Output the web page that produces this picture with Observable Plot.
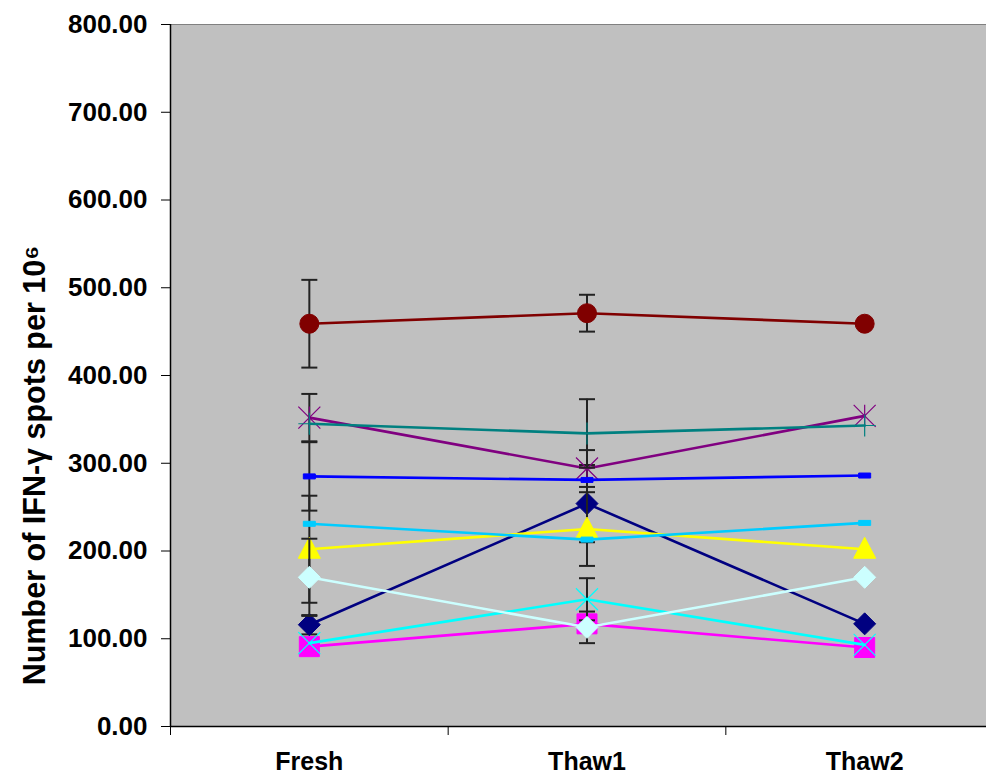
<!DOCTYPE html>
<html>
<head>
<meta charset="utf-8">
<script src="https://cdn.jsdelivr.net/npm/d3@7"></script>
<script src="https://cdn.jsdelivr.net/npm/@observablehq/plot@0.6"></script>
<style>
  html, body { margin: 0; padding: 0; background: #fff; overflow: hidden; }
  #chart svg text { font-weight: bold; }
</style>
</head>
<body>
<div id="chart"></div>
<script>
const categories = ["Fresh", "Thaw1", "Thaw2"];
const yTicks = [0, 100, 200, 300, 400, 500, 600, 700, 800];
const yLabel = "Number of IFN-\u03B3 spots per 10\u2076";

const seriesNames = ["S1", "S2", "S3", "S4", "S5", "S6", "S7", "S8", "S9", "S10"];
const seriesColors = ["#000080", "#FF00FF", "#FFFF00", "#00FFFF", "#800080", "#800000", "#008080", "#0000FF", "#00CCFF", "#CCFFFF"];
const seriesMarkers = ["diamond", "square", "triangle", "times", "star", "circle", "plus", "dash", "dash", "diamond"];

const values1  = [116, 254, 117];
const values2  = [91, 117, 90];
const values3  = [202, 225, 202];
const values4  = [95, 145, 93];
const values5  = [352, 294, 354];
const values6  = [459, 471, 459];
const values7  = [345, 334, 343];
const values8  = [285, 281, 286];
const values9  = [231, 213, 232];
const values10 = [170, 113, 170];

const errors1  = [11, 44, null];
const errors2  = [null, null, null];
const errors3  = [61, 42, null];
const errors4  = [null, 24, null];
const errors5  = [27, 21, null];
const errors6  = [50, 21, null];
const errors7  = [null, 39, null];
const errors8  = [39, null, null];
const errors9  = [null, null, null];
const errors10 = [44, 18, null];

const allValues = [values1, values2, values3, values4, values5, values6, values7, values8, values9, values10];
const allErrors = [errors1, errors2, errors3, errors4, errors5, errors6, errors7, errors8, errors9, errors10];

// custom marker shapes (pixel sizes), ignoring Plot's size argument
const shapes = {
  diamond: {draw(c) { const r = 11; c.moveTo(0, -r); c.lineTo(r, 0); c.lineTo(0, r); c.lineTo(-r, 0); c.closePath(); }},
  square: {draw(c) { const r = 10; c.rect(-r, -r, 2 * r, 2 * r); }},
  triangle: {draw(c) { c.moveTo(0, -12); c.lineTo(11, 9); c.lineTo(-11, 9); c.closePath(); }},
  times: {draw(c) { const r = 11; c.moveTo(-r, -r); c.lineTo(r, r); c.moveTo(-r, r); c.lineTo(r, -r); }},
  star: {draw(c) { const r = 11; c.moveTo(-r, -r); c.lineTo(r, r); c.moveTo(-r, r); c.lineTo(r, -r); c.moveTo(0, -r); c.lineTo(0, r); }},
  circle: {draw(c) { const r = 9.5; c.moveTo(r, 0); c.arc(0, 0, r, 0, 2 * Math.PI); }},
  plus: {draw(c) { const r = 11; c.moveTo(-r, 0); c.lineTo(r, 0); c.moveTo(0, -r); c.lineTo(0, r); }},
  dash: {draw(c) { c.rect(-6, -2.5, 12, 5); }},
  cap: {draw(c) { c.moveTo(-8, 0); c.lineTo(8, 0); }}
};
const strokeOnly = new Set(["times", "star", "plus"]);

const seriesMarks = [];
seriesNames.forEach((name, s) => {
  const rows = categories.map((cat, i) => ({series: name, xi: i, cat, value: allValues[s][i], err: allErrors[s][i]}));
  const errRows = rows.filter(d => d.err != null);
  const color = seriesColors[s];
  const m = seriesMarkers[s];
  seriesMarks.push(Plot.line(rows, {x: "xi", y: "value", stroke: color, strokeWidth: 2.6}));
  seriesMarks.push(Plot.ruleX(errRows, {x: "xi", y1: d => d.value - d.err, y2: d => d.value + d.err, stroke: "#222", strokeWidth: 2}));
  seriesMarks.push(Plot.dot(errRows, {x: "xi", y: d => d.value - d.err, r: 5, symbol: shapes.cap, stroke: "#222", strokeWidth: 2}));
  seriesMarks.push(Plot.dot(errRows, {x: "xi", y: d => d.value + d.err, r: 5, symbol: shapes.cap, stroke: "#222", strokeWidth: 2}));
  if (strokeOnly.has(m)) {
    seriesMarks.push(Plot.dot(rows, {x: "xi", y: "value", r: 5, symbol: shapes[m], stroke: color, strokeWidth: 1.2, fill: "none"}));
  } else {
    seriesMarks.push(Plot.dot(rows, {x: "xi", y: "value", r: 5, symbol: shapes[m], fill: color, stroke: color, strokeWidth: 1}));
  }
});

const chart = Plot.plot({
  width: 986,
  height: 777,
  marginLeft: 170,
  marginRight: -17,
  marginTop: 24,
  marginBottom: 51,
  style: {fontFamily: "'Liberation Sans', Arial, sans-serif", background: "#fff", color: "#000", overflow: "hidden"},
  x: {domain: [-0.5, 2.5], axis: null},
  y: {domain: [0, 800], axis: null},
  marks: [
    Plot.frame({fill: "#C0C0C0", stroke: "#808080"}),
    Plot.axisY({ticks: yTicks, tickSize: 9, tickPadding: 14, tickFormat: d3.format(".2f"), fontSize: 26, label: null, stroke: "#000"}),
    Plot.axisX({ticks: [-0.5, 0.5, 1.5, 2.5], tickSize: 9, tickFormat: () => "", label: null}),
    Plot.axisX({ticks: [0, 1, 2], tickSize: 0, tickPadding: 26, tickFormat: i => categories[i], fontSize: 25, label: null}),
    ...seriesMarks,
    Plot.ruleX([-0.5], {stroke: "#000", strokeWidth: 1.5}),
    Plot.ruleY([0], {stroke: "#000", strokeWidth: 1.5}),
    Plot.text([yLabel], {frameAnchor: "left", textAnchor: "middle", rotate: -90, dx: -135, dy: 90, fontSize: 30.5, fill: "#000"})
  ]
});
document.getElementById("chart").appendChild(chart);
</script>
</body>
</html>
